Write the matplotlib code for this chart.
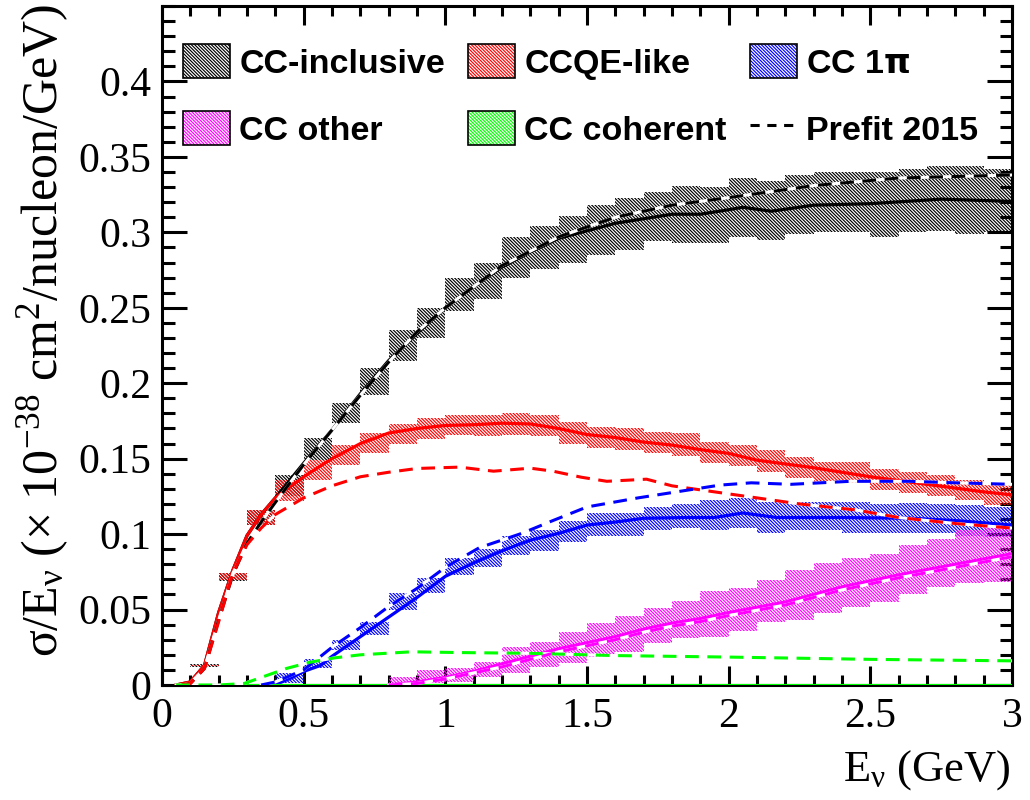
import numpy as np
import matplotlib
matplotlib.use("Agg")
import matplotlib.pyplot as plt
from matplotlib.patches import Patch
from matplotlib.lines import Line2D
from matplotlib.legend_handler import HandlerTuple
from matplotlib.ticker import MultipleLocator, FuncFormatter

plt.rcParams['mathtext.fontset'] = 'custom'
plt.rcParams['mathtext.rm'] = 'Liberation Serif'
plt.rcParams['mathtext.it'] = 'Liberation Serif:italic'
plt.rcParams['hatch.linewidth'] = 0.85

# bin edges (GeV), 0.1 GeV bins
edges = [0.0, 0.1, 0.2, 0.3, 0.4, 0.5, 0.6, 0.7, 0.8, 0.9, 1.0,
         1.1, 1.2, 1.3, 1.4, 1.5, 1.6, 1.7, 1.8, 1.9, 2.0,
         2.1, 2.2, 2.3, 2.4, 2.5, 2.6, 2.7, 2.8, 2.9, 3.0]
nan = np.nan

# post-fit error bands (low / high edge per bin)
inc_lo = [nan, 0.012, 0.069, 0.106, 0.125, 0.149, 0.1735, 0.192, 0.215, 0.230,
          0.248, 0.256, 0.270, 0.276, 0.280, 0.285, 0.288, 0.294, 0.293, 0.293,
          0.297, 0.295, 0.299, 0.300, 0.300, 0.297, 0.300, 0.301, 0.299, 0.300]
inc_hi = [nan, 0.014, 0.074, 0.116, 0.139, 0.164, 0.187, 0.210, 0.235, 0.250,
          0.270, 0.280, 0.297, 0.304, 0.311, 0.318, 0.323, 0.327, 0.331, 0.330,
          0.336, 0.334, 0.338, 0.340, 0.340, 0.340, 0.342, 0.344, 0.344, 0.342]

qe_lo = [nan, 0.0125, 0.0695, 0.106, 0.122, 0.136, 0.146, 0.154, 0.160, 0.163,
         0.166, 0.165, 0.166, 0.165, 0.160, 0.157, 0.156, 0.154, 0.152, 0.147,
         0.145, 0.141, 0.137, 0.134, 0.134, 0.129, 0.127, 0.125, 0.1225, 0.119]
qe_hi = [nan, 0.0135, 0.074, 0.116, 0.136, 0.149, 0.159, 0.167, 0.173, 0.177,
         0.179, 0.179, 0.180, 0.179, 0.174, 0.171, 0.170, 0.168, 0.167, 0.161,
         0.159, 0.156, 0.151, 0.148, 0.148, 0.143, 0.141, 0.139, 0.136, 0.134]

pi_lo = [nan, nan, nan, nan, 0.001, 0.011, 0.023, 0.033, 0.050, 0.061,
         0.073, 0.078, 0.086, 0.089, 0.095, 0.099, 0.099, 0.103, 0.104, 0.103,
         0.104, 0.101, 0.103, 0.103, 0.101, 0.101, 0.101, 0.101, 0.099, 0.098]
pi_hi = [nan, nan, nan, nan, 0.008, 0.017, 0.030, 0.042, 0.061, 0.071,
         0.084, 0.090, 0.099, 0.103, 0.109, 0.114, 0.114, 0.118, 0.120, 0.1225,
         0.124, 0.121, 0.121, 0.121, 0.121, 0.120, 0.1205, 0.120, 0.119, 0.118]

oth_lo = [nan, nan, nan, nan, nan, nan, nan, nan, 0.0, 0.001,
          0.002, 0.005, 0.008, 0.012, 0.0146, 0.0185, 0.022, 0.028, 0.031, 0.032,
          0.036, 0.0417, 0.043, 0.048, 0.052, 0.055, 0.060, 0.065, 0.0675, 0.068]
oth_hi = [nan, nan, nan, nan, nan, nan, nan, nan, 0.005, 0.010,
          0.0113, 0.015, 0.025, 0.0285, 0.035, 0.041, 0.046, 0.051, 0.056, 0.062,
          0.064, 0.0695, 0.076, 0.081, 0.084, 0.087, 0.093, 0.097, 0.103, 0.105]

# post-fit central curves
inc_x = [0.05, 0.1, 0.15, 0.2, 0.25, 0.3, 0.35, 0.4, 0.5, 0.6, 0.7, 0.8, 0.9, 1.0, 1.1,
         1.2, 1.3, 1.4, 1.5, 1.6, 1.7, 1.8, 1.9, 2.0, 2.05, 2.15, 2.3, 2.5, 2.75, 3.0]
inc_y = [0, 0.002, 0.013, 0.048, 0.076, 0.099, 0.113, 0.124, 0.147, 0.169, 0.193, 0.215,
         0.233, 0.250, 0.264, 0.277, 0.287, 0.296, 0.301, 0.306, 0.309, 0.312, 0.312,
         0.315, 0.3166, 0.314, 0.318, 0.319, 0.322, 0.3205]

qe_x = [0.05, 0.1, 0.15, 0.2, 0.25, 0.3, 0.35, 0.4, 0.5, 0.6, 0.7, 0.8, 0.9, 1.0, 1.1,
        1.2, 1.3, 1.4, 1.5, 1.6, 1.7, 1.8, 1.9, 2.0, 2.1, 2.3, 2.5, 2.7, 2.9, 3.0]
qe_y = [0, 0.002, 0.013, 0.048, 0.076, 0.099, 0.113, 0.124, 0.138, 0.150, 0.160, 0.167,
        0.170, 0.172, 0.1725, 0.1735, 0.173, 0.170, 0.166, 0.164, 0.161, 0.159, 0.156,
        0.1535, 0.149, 0.144, 0.138, 0.133, 0.128, 0.126]

pi_x = [0.38, 0.41, 0.46, 0.5, 0.56, 0.6, 0.7, 0.8, 0.9, 1.0, 1.1, 1.2, 1.3, 1.4, 1.5,
        1.6, 1.7, 1.85, 1.95, 2.05, 2.17, 2.4, 2.64, 2.8, 3.0]
pi_y = [0, 0.001, 0.005, 0.009, 0.013, 0.019, 0.032, 0.045, 0.058, 0.072, 0.081, 0.089,
        0.096, 0.1005, 0.106, 0.108, 0.1105, 0.111, 0.111, 0.114, 0.111, 0.111, 0.1105,
        0.109, 0.106]

oth_x = [0.8, 0.9, 1.0, 1.1, 1.2, 1.3, 1.4, 1.5, 1.6, 1.7, 1.8, 1.9, 2.0, 2.2, 2.4,
         2.6, 2.8, 3.0]
oth_y = [0, 0.002, 0.005, 0.009, 0.014, 0.019, 0.024, 0.028, 0.032, 0.037, 0.041,
         0.044, 0.048, 0.055, 0.065, 0.073, 0.080, 0.087]

coh_x = [0.05, 3.0]
coh_y = [0.0, 0.0]

# prefit 2015 curves
inc_pre_x = [0.07, 0.1, 0.15, 0.2, 0.25, 0.3, 0.35, 0.4, 0.5, 0.6, 0.7, 0.8, 0.9, 1.0,
             1.2, 1.4, 1.6, 1.8, 2.0, 2.3, 2.6, 3.0]
inc_pre_y = [0, 0.001, 0.011, 0.043, 0.073, 0.094, 0.108, 0.121, 0.146, 0.169, 0.192,
             0.214, 0.234, 0.250, 0.278, 0.297, 0.310, 0.318, 0.323, 0.331, 0.336, 0.338]

qe_pre_x = [0.07, 0.1, 0.15, 0.2, 0.25, 0.3, 0.35, 0.4, 0.5, 0.6, 0.7, 0.8, 0.9, 1.05,
            1.17, 1.3, 1.38, 1.48, 1.57, 1.71, 1.8, 1.95, 2.1, 2.25, 2.45, 2.6, 2.8, 3.0]
qe_pre_y = [0, 0.001, 0.011, 0.042, 0.074, 0.093, 0.104, 0.113, 0.124, 0.132, 0.138,
            0.141, 0.1435, 0.1444, 0.1417, 0.1437, 0.1417, 0.1377, 0.135, 0.1364, 0.132,
            0.128, 0.124, 0.120, 0.116, 0.111, 0.107, 0.104]

pi_pre_x = [0.35, 0.4, 0.45, 0.5, 0.6, 0.7, 0.8, 0.9, 1.0, 1.12, 1.27, 1.38, 1.5, 1.68,
            1.85, 1.97, 2.08, 2.22, 2.43, 2.64, 2.8, 3.0]
pi_pre_y = [0, 0.002, 0.006, 0.010, 0.025, 0.038, 0.052, 0.064, 0.078, 0.091, 0.1005,
            0.109, 0.118, 0.124, 0.129, 0.1325, 0.134, 0.133, 0.135, 0.135, 0.134, 0.133]

oth_pre_x = oth_x
oth_pre_y = [0, 0.001, 0.004, 0.008, 0.012, 0.017, 0.022, 0.026, 0.030, 0.035, 0.039,
             0.042, 0.046, 0.053, 0.063, 0.071, 0.078, 0.085]

coh_pre_x = [0.05, 0.2, 0.29, 0.35, 0.44, 0.52, 0.61, 0.7, 0.88, 1.05, 1.3, 1.6, 2.0,
             2.5, 3.0]
coh_pre_y = [0, 0, 0.001, 0.005, 0.011, 0.015, 0.018, 0.020, 0.022, 0.0215, 0.021,
             0.0195, 0.0185, 0.017, 0.016]

labels = ['CC-inclusive', 'CCQE-like', r'CC 1$\mathbf{\pi}$', 'CC other', 'CC coherent']
colors = ['black', '#ff0000', '#0000ff', '#ff00ff', '#00ff00']
HATCH = '\\' * 10

fig = plt.figure(figsize=(10.3, 8), dpi=100)
ax = fig.add_axes([162/1030, 1-685/800, 850/1030, 679/800])


def band(lo, hi, c):
    lo = np.append(lo, lo[-1])
    hi = np.append(hi, hi[-1])
    ax.fill_between(edges, lo, hi, step='post', facecolor='none', edgecolor=c,
                    hatch=HATCH, linewidth=0, zorder=2)


band(inc_lo, inc_hi, colors[0])
band(qe_lo, qe_hi, colors[1])
band(pi_lo, pi_hi, colors[2])
band(oth_lo, oth_hi, colors[3])

post = [(inc_x, inc_y), (qe_x, qe_y), (pi_x, pi_y), (oth_x, oth_y), (coh_x, coh_y)]
pre = [(inc_pre_x, inc_pre_y), (qe_pre_x, qe_pre_y), (pi_pre_x, pi_pre_y),
       (oth_pre_x, oth_pre_y), (coh_pre_x, coh_pre_y)]

for (x, y), c in zip(post, colors):
    ax.plot(x, y, color=c, lw=2.3, zorder=3)
for (x, y), c in zip(pre, colors):
    ax.plot(x, y, color='white', lw=2.2, zorder=4)
    ax.plot(x, y, color=c, lw=2.2, dashes=(4.5, 2.8), zorder=5)

ax.set_xlim(0, 3)
ax.set_ylim(0, 0.45)
ax.xaxis.set_major_locator(MultipleLocator(0.5))
ax.xaxis.set_minor_locator(MultipleLocator(0.1))
ax.set_yticks([0, 0.05, 0.1, 0.15, 0.2, 0.25, 0.3, 0.35, 0.4])
ax.yaxis.set_minor_locator(MultipleLocator(0.01))
fmt = FuncFormatter(lambda v, p: '%g' % round(v, 3))
ax.xaxis.set_major_formatter(fmt)
ax.yaxis.set_major_formatter(fmt)

for s in ax.spines.values():
    s.set_linewidth(2.2)
ax.tick_params(which='both', direction='in', top=True, right=True, width=2.2)
ax.tick_params(axis='y', which='major', length=18, pad=8)
ax.tick_params(axis='y', which='minor', length=9)
ax.tick_params(axis='x', which='major', length=14, pad=9)
ax.tick_params(axis='x', which='minor', length=7)
for lab in ax.get_xticklabels() + ax.get_yticklabels():
    lab.set_fontfamily('Liberation Serif')
    lab.set_fontsize(30)

fig.text(0.042, 0.995,
         r'$\mathrm{σ/E}_{\mathrm{ν}}\ \mathrm{(×\ 10^{-38}\ cm^{2}/nucleon/GeV)}$',
         rotation=90, ha='center', va='top', fontsize=36)
fig.text(1010/1030, 1-770/800, r'$\mathrm{E}_{\mathrm{ν}}\ \mathrm{(GeV)}$',
         ha='right', va='center', fontsize=32)

handles = []
for c in colors:
    h1 = Patch(facecolor='none', edgecolor=c, hatch=HATCH, linewidth=0)
    h2 = Patch(facecolor='none', edgecolor='black', linewidth=1.2)
    handles.append((h1, h2))
handles.append(Line2D([], [], color='black', lw=2.2, dashes=(3.0, 2.5)))
all_labels = labels + ['Prefit 2015']
# column-major order for 3 columns, 2 rows
order = [0, 3, 1, 4, 2, 5]
leg = ax.legend([handles[i] for i in order], [all_labels[i] for i in order],
                handler_map={tuple: HandlerTuple(ndivide=1, pad=0)},
                ncol=3, loc='upper left', bbox_to_anchor=(183/1030, 1-44/800),
                bbox_transform=fig.transFigure, frameon=False, borderpad=0,
                borderaxespad=0, handlelength=1.38, handleheight=1.18,
                handletextpad=0.27, columnspacing=0.68, labelspacing=0.92,
                prop={'family': 'Liberation Sans', 'weight': 'bold', 'size': 24.5})

fig.savefig('out.png', dpi=100)
